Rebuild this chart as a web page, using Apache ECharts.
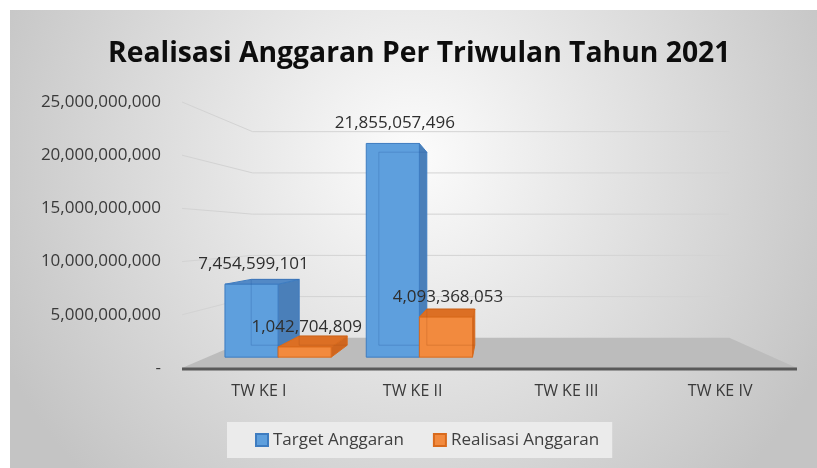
<!DOCTYPE html>
<html>
<head>
<meta charset="utf-8">
<title>Realisasi Anggaran Per Triwulan Tahun 2021</title>
<script src="https://cdn.jsdelivr.net/npm/echarts@6/dist/echarts.min.js"></script>
<style>
  html, body { margin: 0; padding: 0; background: #fff; }
  #chart { width: 817px; height: 468px; }
</style>
</head>
<body>
<div id="chart"></div>
<script>
// data
const categories = ['TW KE I', 'TW KE II', 'TW KE III', 'TW KE IV'];
const targetAnggaran = [7454599101, 21855057496, null, null];
const realisasiAnggaran = [1042704809, 4093368053, null, null];
const yTicks = [0, 5000000000, 10000000000, 15000000000, 20000000000, 25000000000];

const FONT = "'Open Sans', 'Noto Sans', sans-serif";

// fake 3D: perspective toward a vanishing point inside the grid
const VX_RATIO = 0.5106;
const VY_RATIO = 0.496;
const S_WALL = 0.775;   // back wall / floor depth
const S_FRONT = 0.919;  // bar front face
const S_BACK = 0.83;    // bar back face
const BAR_RATIO = 0.376;

function addCommas(v) {
  return String(v).replace(/\B(?=(\d{3})+(?!\d))/g, ',');
}

function project(sys, x, y, s) {
  const vx = sys.x + sys.width * VX_RATIO;
  const vy = sys.y + sys.height * VY_RATIO;
  return [vx + (x - vx) * s, vy + (y - vy) * s];
}

function renderWall(params, api) {
  const sys = params.coordSys;
  const v = api.value(1);
  const y = api.coord([0, v])[1];
  const xl = sys.x, xr = sys.x + sys.width;
  if (v === 0) {
    return {
      type: 'group',
      children: [
        {
          type: 'polygon',
          shape: { points: [[xl, y], [xr, y], project(sys, xr, y, S_WALL), project(sys, xl, y, S_WALL)] },
          style: { fill: '#bcbcbc' }
        },
        {
          type: 'line',
          shape: { x1: xl, y1: y + 1, x2: xr, y2: y + 1 },
          style: { stroke: '#595959', lineWidth: 3 }
        }
      ]
    };
  }
  return {
    type: 'polyline',
    shape: { points: [[xl, y], project(sys, xl, y, S_WALL), project(sys, xr, y, S_WALL)] },
    style: { stroke: '#d3d3d3', lineWidth: 1, fill: null }
  };
}

function barRenderer(pos, col) {
  return function (params, api) {
    const v = api.value(1);
    if (v == null || isNaN(v)) return null;
    const sys = params.coordSys;
    const i = api.value(0);
    const c = api.coord([i, 0]);
    const top = api.coord([i, v])[1];
    const base = c[1];
    const w = api.size([1, 0])[0] * BAR_RATIO;
    const x0 = c[0] - w + pos * w;
    const x1 = x0 + w;
    const vx = sys.x + sys.width * VX_RATIO;
    const vy = sys.y + sys.height * VY_RATIO;
    const P = (x, y, s) => project(sys, x, y, s);
    const fTL = P(x0, top, S_FRONT), fTR = P(x1, top, S_FRONT);
    const fBR = P(x1, base, S_FRONT), fBL = P(x0, base, S_FRONT);
    const bTL = P(x0, top, S_BACK), bTR = P(x1, top, S_BACK);
    const bBR = P(x1, base, S_BACK), bBL = P(x0, base, S_BACK);
    const children = [];
    if (x1 < vx) {
      children.push({ type: 'polygon', shape: { points: [fTR, bTR, bBR, fBR] },
        style: { fill: col.side, stroke: col.edge, lineWidth: 1 } });
    } else if (x0 > vx) {
      children.push({ type: 'polygon', shape: { points: [fTL, bTL, bBL, fBL] },
        style: { fill: col.side, stroke: col.edge, lineWidth: 1 } });
    }
    if (top > vy) {
      children.push({ type: 'polygon', shape: { points: [fTL, fTR, bTR, bTL] },
        style: { fill: col.top, stroke: col.edge, lineWidth: 1 } });
    }
    children.push({ type: 'polygon', shape: { points: [fTL, fTR, fBR, fBL] },
      style: { fill: col.front, stroke: col.edge, lineWidth: 1 } });
    // back edges seen through the face
    children.push({ type: 'polyline', shape: { points: [bTR, bTL, bBL, bBR] },
      style: { stroke: col.hidden, lineWidth: 1, fill: null } });
    children.push({
      type: 'text',
      z2: 10,
      style: {
        text: addCommas(v),
        x: (fTL[0] + fTR[0]) / 2 + 2,
        y: fTL[1] - 20,
        align: 'center',
        verticalAlign: 'middle',
        fontFamily: FONT,
        fontSize: 17,
        fill: '#2e2e2e'
      }
    });
    return { type: 'group', children: children };
  };
}

const blue = { front: '#5e9fdd', side: '#4a7fb9', top: '#5289c6', edge: '#3e7cc0', hidden: 'rgba(40,90,160,0.28)' };
const orange = { front: '#f28a3e', side: '#cf661f', top: '#dc6f24', edge: '#d96a1c', hidden: 'rgba(170,80,20,0.28)' };

const chart = echarts.init(document.getElementById('chart'));
chart.setOption({
  animation: false,
  graphic: [{
    type: 'rect',
    z: -10,
    silent: true,
    shape: { x: 10, y: 10, width: 807, height: 458 },
    style: {
      fill: new echarts.graphic.RadialGradient(0.5, 0.32, 1.0, [
        { offset: 0, color: '#fcfcfc' },
        { offset: 1, color: '#c4c4c4' }
      ])
    }
  }],
  title: {
    text: 'Realisasi Anggaran Per Triwulan Tahun 2021',
    left: 108,
    top: 40,
    padding: 0,
    textStyle: { fontFamily: FONT, fontWeight: 'bold', fontSize: 28.3, color: '#0d0d0d' }
  },
  legend: {
    data: ['Target Anggaran', 'Realisasi Anggaran'],
    left: 227,
    top: 422,
    padding: [9, 13, 9, 28],
    itemGap: 29,
    itemWidth: 12,
    itemHeight: 12,
    icon: 'rect',
    backgroundColor: '#ebebeb',
    textStyle: { fontFamily: FONT, fontSize: 17, color: '#404040', lineHeight: 18 }
  },
  grid: { left: 182, right: 20, top: 102, bottom: 100 },
  xAxis: {
    type: 'category',
    data: categories,
    axisLine: { show: false },
    axisTick: { show: false },
    axisLabel: { margin: 15, fontFamily: FONT, fontSize: 16, color: '#3a3a3a' }
  },
  yAxis: {
    type: 'value',
    min: 0,
    max: 25000000000,
    interval: 5000000000,
    splitLine: { show: false },
    axisLine: { show: false },
    axisTick: { show: false },
    axisLabel: {
      margin: 21,
      fontFamily: FONT,
      fontSize: 17,
      color: '#3a3a3a',
      formatter: v => (v === 0 ? '-' : addCommas(v))
    }
  },
  series: [
    {
      type: 'custom',
      name: 'walls',
      silent: true,
      z: 1,
      renderItem: renderWall,
      data: yTicks.map(v => [0, v])
    },
    {
      type: 'custom',
      name: 'Target Anggaran',
      z: 3,
      itemStyle: { color: blue.front, borderColor: blue.edge, borderWidth: 1 },
      renderItem: barRenderer(0, blue),
      data: targetAnggaran.map((v, i) => [i, v])
    },
    {
      type: 'custom',
      name: 'Realisasi Anggaran',
      z: 4,
      itemStyle: { color: orange.front, borderColor: orange.edge, borderWidth: 1 },
      renderItem: barRenderer(1, orange),
      data: realisasiAnggaran.map((v, i) => [i, v])
    }
  ]
});
</script>
</body>
</html>
